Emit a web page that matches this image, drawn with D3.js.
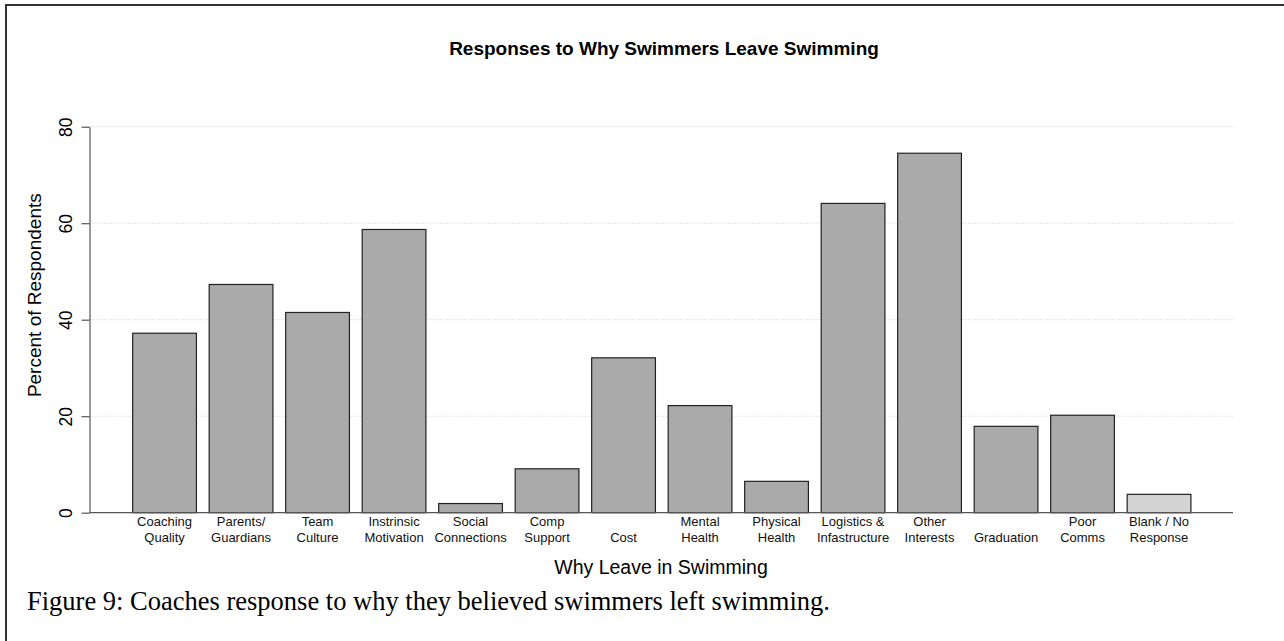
<!DOCTYPE html>
<html>
<head>
<meta charset="utf-8">
<script src="https://cdn.jsdelivr.net/npm/d3@7"></script>
<style>
  html, body { margin: 0; padding: 0; background: #fff; }
  svg { display: block; }
</style>
</head>
<body>
<svg id="chart" width="1284" height="641"></svg>
<script>
// Reasons coaches gave for swimmers leaving the sport (percent of respondents)
const categories = [
  ["Coaching", "Quality"],
  ["Parents/", "Guardians"],
  ["Team", "Culture"],
  ["Instrinsic", "Motivation"],
  ["Social", "Connections"],
  ["Comp", "Support"],
  ["", "Cost"],
  ["Mental", "Health"],
  ["Physical", "Health"],
  ["Logistics &", "Infastructure"],
  ["Other", "Interests"],
  ["", "Graduation"],
  ["Poor", "Comms"],
  ["Blank / No", "Response"]
];
const percentValues = [37.2, 47.3, 41.5, 58.7, 1.9, 9.1, 32.1, 22.2, 6.5, 64.1, 74.5, 17.9, 20.2, 3.8];
const yTicks = [0, 20, 40, 60, 80];

const titleText = "Responses to Why Swimmers Leave Swimming";
const xTitle = "Why Leave in Swimming";
const yTitle = "Percent of Respondents";
const captionText = "Figure 9: Coaches response to why they believed swimmers left swimming.";

const svg = d3.select("#chart");
const sans = "'Liberation Sans', Arial, sans-serif";

const rows = categories.map((c, i) => ({ key: i, label: c, value: percentValues[i] }));

const x = d3.scaleBand()
  .domain(rows.map(d => d.key))
  .range([126.3, 1197.3])
  .paddingInner(1 / 6)
  .paddingOuter(1 / 12);

const y = d3.scaleLinear().domain([0, 80]).range([512.7, 126.7]);

const plotLeft = 89.5, plotRight = 1233;

// page frame
svg.append("rect")
  .attr("x", 6).attr("y", 5)
  .attr("width", 1300).attr("height", 700)
  .attr("fill", "none")
  .attr("stroke", "#333")
  .attr("stroke-width", 2);

// dotted horizontal gridlines
svg.append("g")
  .selectAll("line")
  .data(yTicks.filter(t => t > 0))
  .join("line")
  .attr("x1", plotLeft).attr("x2", plotRight)
  .attr("y1", d => y(d)).attr("y2", d => y(d))
  .attr("stroke", "#c8c8c8")
  .attr("stroke-width", 1)
  .attr("stroke-dasharray", "1,2");

// bars
svg.append("g")
  .selectAll("rect")
  .data(rows)
  .join("rect")
  .attr("x", d => x(d.key))
  .attr("width", x.bandwidth())
  .attr("y", d => y(d.value))
  .attr("height", d => y(0) - y(d.value))
  .attr("fill", (d, i) => i === rows.length - 1 ? "#d3d3d3" : "#aaaaaa")
  .attr("stroke", "#222")
  .attr("stroke-width", 1.2);

// baseline
svg.append("line")
  .attr("x1", plotLeft).attr("x2", plotRight)
  .attr("y1", y(0)).attr("y2", y(0))
  .attr("stroke", "#555").attr("stroke-width", 1.2);

// y axis
const yAxis = svg.append("g")
  .attr("transform", `translate(${plotLeft},0)`)
  .call(d3.axisLeft(y).tickValues(yTicks).tickSize(8).tickSizeOuter(0).tickPadding(0));
yAxis.select(".domain").attr("stroke", "#555").attr("stroke-width", 1.2);
yAxis.selectAll(".tick line").attr("stroke", "#555").attr("stroke-width", 1.2);
yAxis.selectAll(".tick text")
  .attr("x", 0).attr("dy", null)
  .attr("transform", "translate(-17.5,0) rotate(-90)")
  .attr("text-anchor", "middle")
  .attr("y", 0)
  .attr("fill", "#000")
  .style("font-family", sans)
  .style("font-size", "17.5px");

// category labels (two lines each)
const labels = svg.append("g")
  .selectAll("text")
  .data(rows)
  .join("text")
  .attr("text-anchor", "middle")
  .attr("fill", "#111")
  .style("font-family", sans)
  .style("font-size", "13px");
labels.each(function (d) {
  const cx = x(d.key) + x.bandwidth() / 2;
  const t = d3.select(this);
  if (d.label[0]) t.append("tspan").attr("x", cx).attr("y", 526).text(d.label[0]);
  t.append("tspan").attr("x", cx).attr("y", 541.5).text(d.label[1]);
});

// titles
svg.append("text")
  .attr("x", 664).attr("y", 55)
  .attr("text-anchor", "middle")
  .attr("fill", "#000")
  .style("font-family", sans)
  .style("font-size", "19px")
  .style("font-weight", "bold")
  .text(titleText);

svg.append("text")
  .attr("x", 661).attr("y", 573.5)
  .attr("text-anchor", "middle")
  .attr("fill", "#000")
  .style("font-family", sans)
  .style("font-size", "19.5px")
  .text(xTitle);

svg.append("text")
  .attr("transform", `translate(41,${(y(0) + y(80)) / 2 - 24.5}) rotate(-90)`)
  .attr("text-anchor", "middle")
  .attr("fill", "#000")
  .style("font-family", sans)
  .style("font-size", "19px")
  .text(yTitle);

// caption
svg.append("text")
  .attr("x", 27).attr("y", 609.5)
  .attr("fill", "#000")
  .style("font-family", "'Liberation Serif', 'Times New Roman', serif")
  .style("font-size", "26.5px")
  .text(captionText);
</script>
</body>
</html>
